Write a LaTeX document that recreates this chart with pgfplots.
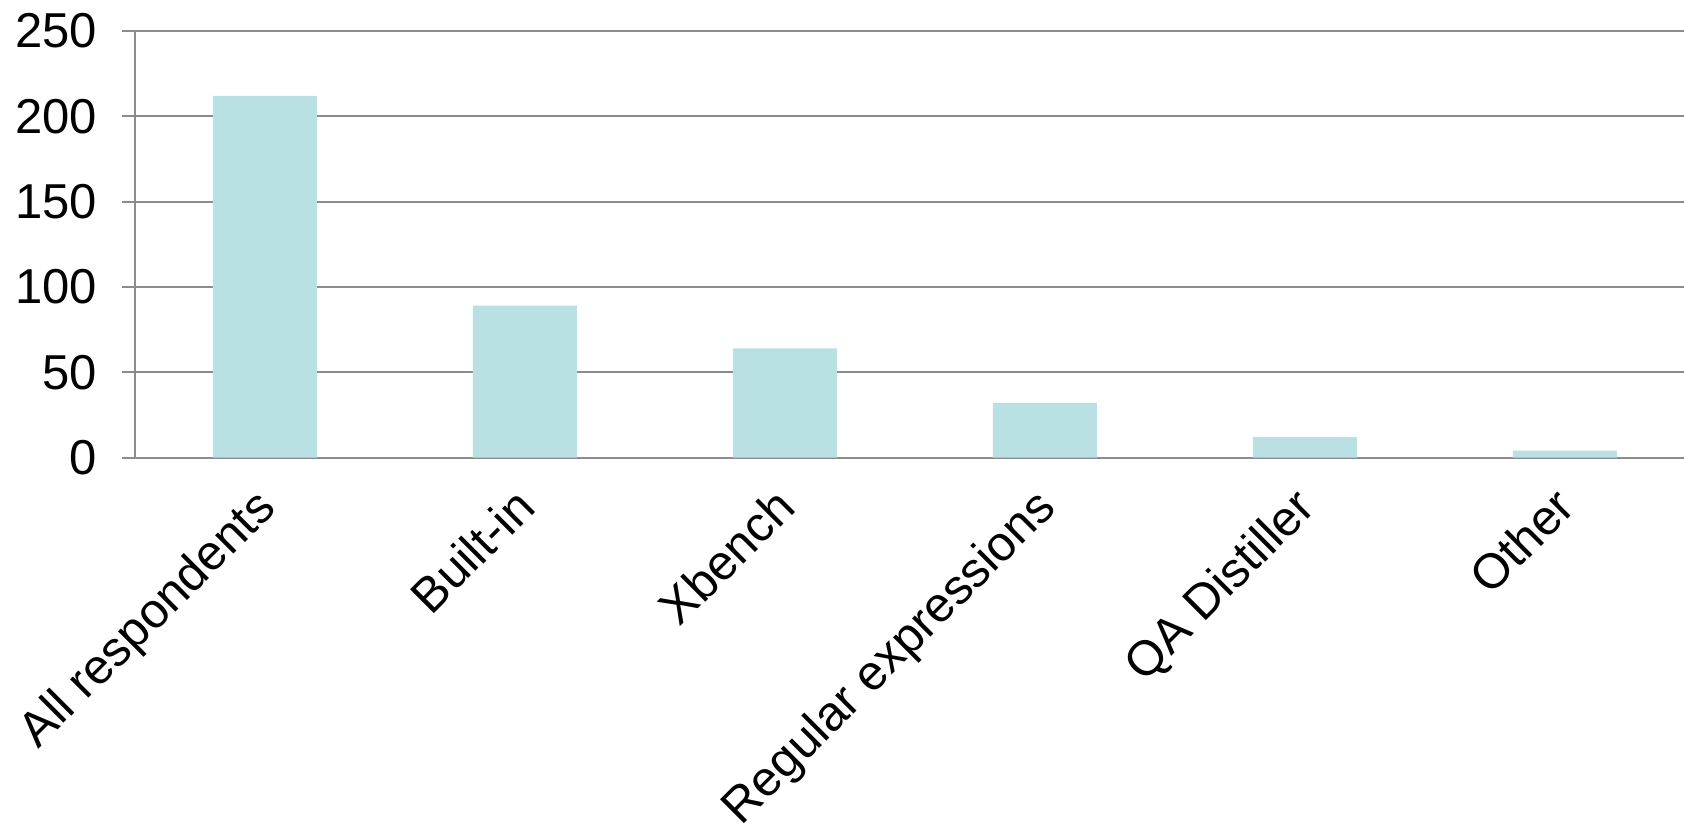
\documentclass[border=0pt]{standalone}
\usepackage{pgfplots}
\pgfplotsset{compat=1.18}
\usepackage{fontspec}
\setmainfont{Liberation Sans}
\definecolor{barc}{HTML}{B9E0E3}
\definecolor{gridc}{HTML}{8C8C8C}
\begin{document}
\begin{tikzpicture}
\begin{axis}[
  scale only axis,
  width=774.5pt, height=213.25pt,
  xmin=-0.5, xmax=5.458,
  ymin=0, ymax=250,
  ytick={0,50,...,250},
  xtick={0,...,5},
  xticklabels={All respondents,Built-in,Xbench,Regular expressions,QA Distiller,Other},
  extra x ticks={-0.5,0.5,1.5,2.5,3.5,4.5},
  extra x tick labels={},
  extra x tick style={major tick length=7pt, tick style={gridc, line width=0.8pt}},
  axis x line*=bottom, axis y line*=left,
  axis line style={gridc, line width=1pt, -},
  ymajorgrids, grid style={gridc, line width=1pt},
  tick align=outside,
  xtick style={draw=none},
  ytick style={gridc, line width=1pt},
  major tick length=6.5pt,
  ticklabel style={font=\fontsize{24.5}{28}\selectfont, text=black},
  /pgf/number format/assume math mode=true,
  yticklabel style={xshift=-9pt},
  xticklabel style={rotate=45, anchor=north east, inner sep=0pt, xshift=-9.4pt, yshift=-0.5pt},
  clip=false,
]
\addplot[ybar, bar width=0.4, fill=barc, draw=none] coordinates {
  (0,212) (1,89) (2,64) (3,32) (4,12) (5,4)
};
\end{axis}
\pgfresetboundingbox
\path ([xshift=-67.5pt,yshift=-183.75pt]current axis.south west) rectangle ([yshift=15.5pt]current axis.north east);
\end{tikzpicture}
\end{document}
